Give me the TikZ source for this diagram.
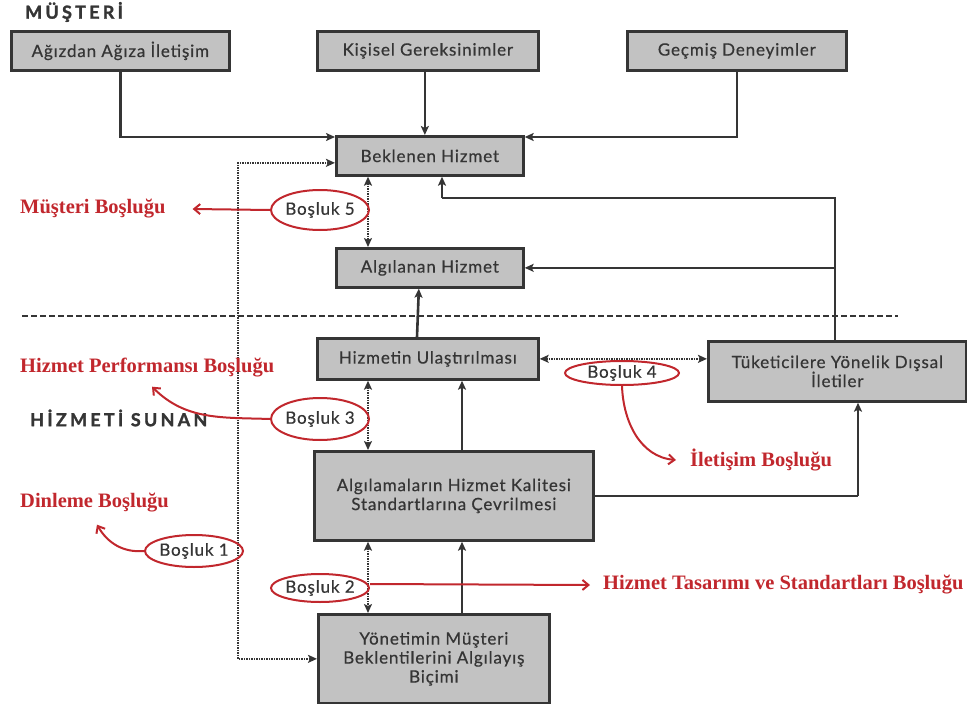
\documentclass[tikz,border=0pt]{standalone}
\usepackage{fontspec}
\setmainfont{Lato}
\newfontfamily\gapfont{Liberation Serif}
\usetikzlibrary{arrows.meta,shapes.geometric,calc}
\definecolor{boxgray}{HTML}{C2C2C2}
\definecolor{ink}{HTML}{353535}
\definecolor{gapred}{HTML}{C1272D}

\begin{document}
\begin{tikzpicture}[x=1pt,y=-1pt,
  boxtext/.style={font=\fontsize{17}{19}\selectfont\addfontfeature{LetterSpace=5,FakeBold=0.5}},
  box/.style={draw=ink, line width=2.7pt, fill=boxgray, anchor=north west,
    align=center, text=ink, inner sep=0pt, boxtext},
  flow/.style={draw=ink, line width=2.6pt, -{Stealth[length=9pt,width=8pt,inset=2pt]}},
  flowline/.style={draw=ink, line width=2.6pt},
  gapline/.style={draw=ink, line width=2.4pt, dash pattern=on 1.5pt off 1pt,
    {Stealth[length=9pt,width=8pt,inset=2pt]}-{Stealth[length=9pt,width=8pt,inset=2pt]}},
  gapmark/.style={ellipse, draw=gapred, line width=2pt, inner sep=0pt,
    text=ink, boxtext},
  gaplabel/.style={text=gapred, anchor=west, inner sep=0pt,
    font=\gapfont\bfseries\fontsize{20.5}{23}\selectfont},
  gaparrow/.style={draw=gapred, line width=2pt, -{Straight Barb[length=6pt,width=10pt]}},
  side/.style={anchor=west, inner sep=0pt, text=ink,
    font=\bfseries\fontsize{18}{20}\selectfont\addfontfeature{LetterSpace=18,FakeBold=1.5}}
]
\useasboundingbox (0,0) rectangle (967,704);

% side headings and the customer / provider boundary
\node[side] (cust) at (25,12) {MÜŞTERİ};
\node[side] (prov) at (30,418) {HİZMETİ SUNAN};
\coordinate (bl) at (22,316);
\coordinate (br) at (898,316);
\draw[ink, line width=2pt, dash pattern=on 6pt off 3pt] (bl) -- (br);

% customer side boxes
\node[box, minimum width=218, minimum height=39] (agiz) at (10,30) {Ağızdan Ağıza İletişim};
\node[box, minimum width=221, minimum height=39] (kis) at (316,30) {Kişisel Gereksinimler};
\node[box, minimum width=219, minimum height=39] (gec) at (626,30) {Geçmiş Deneyimler};
\node[box, minimum width=187, minimum height=39] (bek) at (335,135) {Beklenen Hizmet};
\node[box, minimum width=187, minimum height=39] (alg) at (335,247) {Algılanan Hizmet};

% provider side boxes
\node[box, minimum width=221, minimum height=41] (hiz) at (316,337) {Hizmetin Ulaştırılması};
\node[box, minimum width=258, minimum height=60] (tuk) at (707,340) {Tüketicilere Yönelik Dışsal\\İletiler};
\node[box, minimum width=279, minimum height=89] (alk) at (313,450) {Algılamaların Hizmet Kalitesi\\Standartlarına Çevrilmesi};
\node[box, minimum width=231, minimum height=89] (yon) at (317,613) {Yönetimin Müşteri\\Beklentilerini Algılayış\\Biçimi};

% reference columns for the vertical links
\coordinate (xL) at (238,0);
\coordinate (xA) at (368,0);
\coordinate (xB) at (462,0);
\coordinate (xC) at (442,0);
\coordinate (xD) at (835,0);
\coordinate (xE) at (858,0);
\coordinate (yT) at (0,198);

% inputs to the expected service
\draw[flow] (agiz.south) |- ([yshift=-2pt]bek.north west);
\draw[flow] (kis.south -| bek.north) ++(-5,0) -- ([xshift=-5pt]bek.north);
\draw[flow] (gec.south) |- ([yshift=-2pt]bek.north east);

% external communications feed back to the customer side
\draw[flowline] (tuk.north -| xD) -- (xD |- yT) -- (xC |- yT);
\draw[flow] (xC |- yT) -- (bek.south -| xC);
\draw[flow] (xD |- alg.east) -- (alg.east);

% delivery and translation chain
\draw[flow] (hiz.north -| xB) ++(-45,0) -- ([xshift=-11pt]alg.south);
\draw[flow] (alk.north -| xB) -- (hiz.south -| xB);
\draw[flow] (yon.north -| xB) -- (alk.south -| xB);
\draw[flowline] (alk.east) -- (alk.east -| xE);
\draw[flow] (alk.east -| xE) -- (tuk.south -| xE);

% gap links
\draw[gapline] ([yshift=-7pt]bek.west) -| (xL |- yon.west) -- (yon.west);
\draw[gapline] (bek.south -| xA) -- (alg.north -| xA);
\draw[gapline] (hiz.south -| xA) -- (alk.north -| xA);
\draw[gapline] (alk.south -| xA) -- (yon.north -| xA);
\draw[gapline] (hiz.east) -- (tuk.west |- hiz.east);

% gap markers
\node[gapmark, minimum width=94, minimum height=40] (g5) at (320,210) {Boşluk 5};
\node[gapmark, minimum width=94, minimum height=42] (g3) at (320,419) {Boşluk 3};
\node[gapmark, minimum width=114, minimum height=24] (g4) at (622,373) {Boşluk 4};
\node[gapmark, minimum width=92, minimum height=32] (g1) at (194,551) {Boşluk 1};
\node[gapmark, minimum width=94, minimum height=28] (g2) at (320,588) {Boşluk 2};

% gap names
\node[gaplabel] (n5) at (20,209) {Müşteri Boşluğu};
\node[gaplabel] (n3) at (20,368) {Hizmet Performansı Boşluğu};
\node[gaplabel] (n4) at (690,460) {İletişim Boşluğu};
\node[gaplabel] (n1) at (20,503) {Dinleme Boşluğu};
\node[gaplabel] (n2) at (603,585) {Hizmet Tasarımı ve Standartları Boşluğu};

\draw[gaparrow] (g5.west) -- ([xshift=27pt]n5.east);
\draw[gaparrow] (g3.west) to[out=178, in=-45] ([xshift=132pt, yshift=-9pt]n3.south west);
\draw[gaparrow] (g4.south) to[out=-88, in=175] ([xshift=-14pt]n4.west);
\draw[gaparrow] (g1.west) to[out=185, in=-60] ([xshift=77pt, yshift=-12pt]n1.south west);
\draw[gaparrow] ([yshift=4pt]g2.east) -- ([xshift=-13pt]n2.west);
\end{tikzpicture}
\end{document}
